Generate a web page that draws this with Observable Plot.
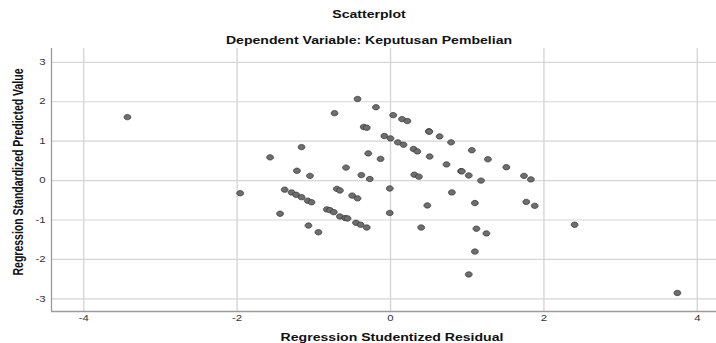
<!DOCTYPE html>
<html>
<head>
<meta charset="utf-8">
<script src="https://cdn.jsdelivr.net/npm/d3@7"></script>
<script src="https://cdn.jsdelivr.net/npm/@observablehq/plot@0.6"></script>
<style>
  html, body { margin: 0; padding: 0; background: #fff; }
  svg { display: block; }
</style>
</head>
<body>
<div id="chart"></div>
<script>
// ---- Data ----
const residual = [
  -0.43, -0.19, 0.035, -0.73, -0.35, -0.31, -0.08, 0.00, 0.095, -1.16,
  -1.57, -0.29, -0.13, -0.58, -1.22, -1.05, -0.38, -0.27, -1.96, -1.38,
  -1.29, -1.23, -1.16, -1.08, -1.03, -0.70, -0.66, -0.50, -0.43, -0.01,
  -1.44, -0.01, -1.07, -0.94, -0.83, -0.79, -0.74, -0.66, -0.59, -0.56,
  -0.45, -0.39, -0.31, 0.15, 0.22, 0.50, 0.505, 0.17, 0.64, 0.79,
  0.30, 0.35, 0.51, 1.06, 0.73, 1.27, 0.92, 0.93, 1.02, 1.18,
  1.51, 0.31, 0.37, 1.74, 1.83, 0.80, 0.48, 1.10, 1.77, 1.88,
  0.40, 1.12, 1.25, 1.10, 1.02, 2.40, 3.74, -3.43
];
const predicted = [
  2.07, 1.86, 1.66, 1.71, 1.36, 1.34, 1.13, 1.07, 0.97, 0.85,
  0.59, 0.69, 0.55, 0.33, 0.25, 0.12, 0.14, 0.04, -0.32, -0.23,
  -0.30, -0.36, -0.42, -0.51, -0.55, -0.21, -0.25, -0.38, -0.45, -0.20,
  -0.84, -0.82, -1.14, -1.31, -0.73, -0.75, -0.80, -0.91, -0.95, -0.96,
  -1.07, -1.12, -1.19, 1.56, 1.51, 1.25, 1.24, 0.91, 1.12, 0.97,
  0.80, 0.74, 0.61, 0.77, 0.41, 0.54, 0.24, 0.235, 0.13, 0.00,
  0.34, 0.15, 0.10, 0.12, 0.03, -0.30, -0.63, -0.57, -0.54, -0.64,
  -1.19, -1.22, -1.34, -1.80, -2.38, -1.12, -2.85, 1.61
];
const xTicks = [-4, -2, 0, 2, 4];
const yTicks = [3, 2, 1, 0, -1, -2, -3];
const xDomain = [-4.42, 4.25];
const yDomain = [-3.32, 3.35];
const titleText = "Scatterplot";
const subtitleText = "Dependent Variable: Keputusan Pembelian";
const xLabel = "Regression Studentized Residual";
const yLabel = "Regression Standardized Predicted Value";

const points = residual.map((r, i) => ({residual: r, predicted: predicted[i]}));

// slightly wide ellipse marker (the reference image is stretched horizontally)
const ellipse = {
  draw(ctx, size) {
    const r = Math.sqrt(size / Math.PI);
    const rx = r * 1.25, ry = r * 0.98, k = 0.5523;
    ctx.moveTo(rx, 0);
    ctx.bezierCurveTo(rx, ry * k, rx * k, ry, 0, ry);
    ctx.bezierCurveTo(-rx * k, ry, -rx, ry * k, -rx, 0);
    ctx.bezierCurveTo(-rx, -ry * k, -rx * k, -ry, 0, -ry);
    ctx.bezierCurveTo(rx * k, -ry, rx, -ry * k, rx, 0);
    ctx.closePath();
  }
};

const font = "'Liberation Sans', Arial, sans-serif";
const intFormat = d => String(d);

const chart = Plot.plot({
  width: 716,
  height: 343,
  marginLeft: 51,
  marginRight: 0,
  marginTop: 48,
  marginBottom: 32,
  style: {fontFamily: font, fontSize: "8.5px", color: "#333", background: "#fff"},
  x: {domain: xDomain, ticks: xTicks, tickSize: 0, tickPadding: 3, tickFormat: intFormat, label: null},
  y: {domain: yDomain, ticks: yTicks, tickSize: 0, tickPadding: 6, tickFormat: intFormat, label: null},
  marks: [
    Plot.ruleY(yTicks, {stroke: "#d6d6d6", strokeWidth: 1.2}),
    Plot.ruleX(xTicks, {stroke: "#d6d6d6", strokeWidth: 1.4}),
    Plot.ruleX([xDomain[0]], {stroke: "#9a9a9a", strokeWidth: 1.3}),
    Plot.ruleY([yDomain[0]], {stroke: "#9a9a9a", strokeWidth: 1.3}),
    Plot.dot(points, {
      x: "residual", y: "predicted", r: 2.75, symbol: ellipse,
      fill: "#6e6e6e", stroke: "#303030", strokeWidth: 0.7
    }),
    Plot.text([titleText], {text: d => d, frameAnchor: "top", dx: -15, dy: -38,
      fontSize: 10.5, fontWeight: "bold", fill: "#111"}),
    Plot.text([subtitleText], {text: d => d, frameAnchor: "top", dx: -15, dy: -12,
      fontSize: 10.5, fontWeight: "bold", fill: "#111"}),
    Plot.text([xLabel], {text: d => d, frameAnchor: "bottom", dx: 8, dy: 29,
      fontSize: 10.5, fontWeight: "bold", fill: "#111"}),
    Plot.text([yLabel], {text: d => d, frameAnchor: "left", textAnchor: "middle",
      rotate: -90, dx: -33, dy: -8,
      fontSize: 10.5, fontWeight: "bold", fill: "#111"})
  ]
});

document.getElementById("chart").appendChild(chart);

// The reference picture is stretched horizontally (factor ~1.34).
const stretch = 1.34;
const svgNS = "http://www.w3.org/2000/svg";
d3.select(chart).selectAll("text").each(function () {
  if (this.textContent === yLabel) {
    // rotated title: stretch its glyphs horizontally around its own centre
    const g = document.createElementNS(svgNS, "g");
    this.parentNode.insertBefore(g, this);
    g.appendChild(this);
    const box = this.getBoundingClientRect();
    const m = g.getScreenCTM();
    const cx = (box.left + box.width / 2 - m.e) / m.a;
    g.setAttribute("transform", `translate(${cx},0) scale(${stretch},1) translate(${-cx},0)`);
    return;
  }
  const len = this.getComputedTextLength();
  if (len > 0) {
    this.setAttribute("textLength", (len * stretch).toFixed(2));
    this.setAttribute("lengthAdjust", "spacingAndGlyphs");
  }
});
</script>
</body>
</html>
